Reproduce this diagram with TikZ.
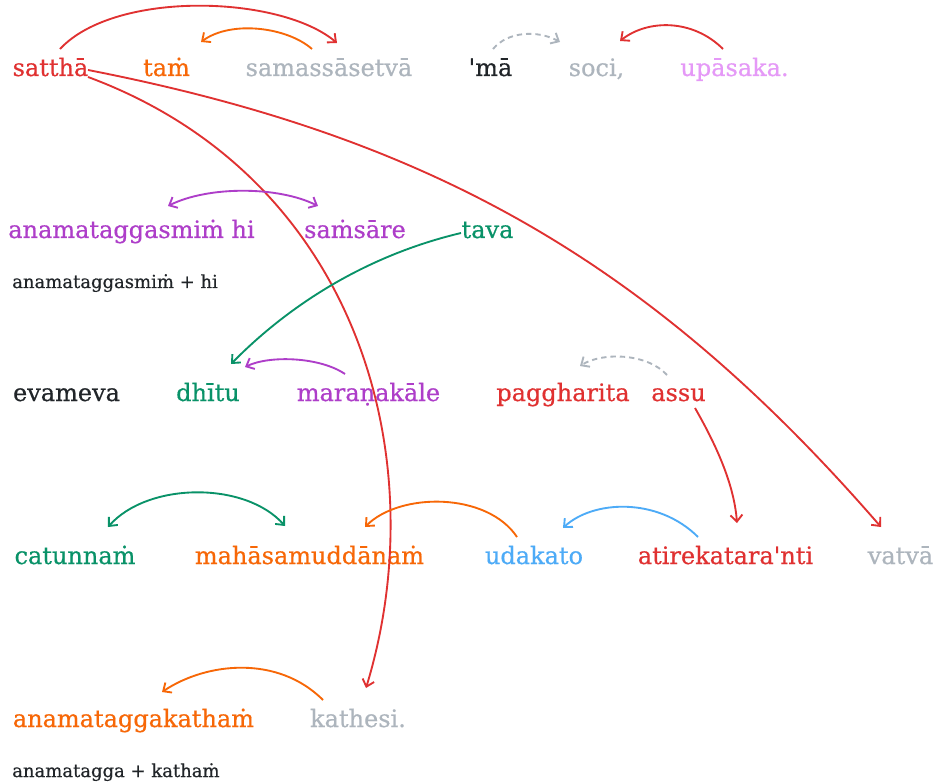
\documentclass[tikz,border=0pt]{standalone}
\usepackage{fontspec}
\setmainfont{DejaVu Serif}[Ligatures=TeXOff,FakeBold=0.5]
\usetikzlibrary{arrows.meta,calc}
\definecolor{cred}{HTML}{E03131}
\definecolor{corange}{HTML}{F76707}
\definecolor{cgrey}{HTML}{ADB5BD}
\definecolor{cdark}{HTML}{212529}
\definecolor{cpink}{HTML}{E599F7}
\definecolor{cgrape}{HTML}{AE3EC9}
\definecolor{cteal}{HTML}{099268}
\definecolor{cblue}{HTML}{4DABF7}
\begin{document}
\begin{tikzpicture}[x=0.75pt,y=-0.75pt,
  word/.style={inner sep=0pt, anchor=base, font=\fontsize{18}{21}\selectfont},
  gloss/.style={inner sep=0pt, anchor=base west, text=cdark, font=\fontsize{13.5}{16}\selectfont},
  link/.style={line width=1.4pt, -{Straight Barb[length=5pt,width=9pt]}},
  both/.style={line width=1.4pt, {Straight Barb[length=5pt,width=9pt]}-{Straight Barb[length=5pt,width=9pt]}},
  faint/.style={link, cgrey, dash pattern=on 4pt off 3pt}]
\fill[white] (0,0) rectangle (939,784);
\useasboundingbox (0,0) rectangle (939,784);

% line 1
\node[word,text=cred]    (sat)  at (50.5,76)  {satthā};
\node[word,text=corange] (tam)  at (166.5,76) {taṁ};
\node[word,text=cgrey]   (sam)  at (329,76)   {samassāsetvā};
\node[word,text=cdark]   (ma)   at (490.5,76) {'mā};
\node[word,text=cgrey]   (soci) at (596.5,76) {soci,};
\node[word,text=cpink]   (upa)  at (734.5,76) {upāsaka.};

% line 2
\node[word,text=cgrape]  (anh)  at (131.5,238) {anamataggasmiṁ hi};
\node[word,text=cgrape]  (sams) at (355,238)   {saṁsāre};
\node[word,text=cteal]   (tava) at (487.5,238) {tava};
\node[gloss] (note1) at (12,288) {anamataggasmiṁ + hi};

% line 3
\node[word,text=cdark]   (evam)  at (66.5,401)  {evameva};
\node[word,text=cteal]   (dhitu) at (208,401)   {dhītu};
\node[word,text=cgrape]  (mara)  at (368.5,401) {maraṇakāle};
\node[word,text=cred]    (pagg)  at (563,401)   {paggharita};
\node[word,text=cred]    (assu)  at (678.5,401) {assu};

% line 4
\node[word,text=cteal]   (catu)  at (75,564)    {catunnaṁ};
\node[word,text=corange] (maha)  at (309.5,564) {mahāsamuddānaṁ};
\node[word,text=cblue]   (udak)  at (534,564)   {udakato};
\node[word,text=cred]    (atir)  at (725.5,564) {atirekatara'nti};
\node[word,text=cgrey]   (vatva) at (900.5,564) {vatvā};

% line 5
\node[word,text=corange] (anak) at (133.5,727) {anamataggakathaṁ};
\node[word,text=cgrey]   (kath) at (358,727)   {kathesi.};
\node[gloss] (note2) at (12,777) {anamatagga + kathaṁ};

% links
\draw[link,cred] ($(sat.base)+(9.5,-27)$) .. controls +(55,-59) and +(-57,-48) .. ($(sam.base)+(8,-33)$);
\draw[link,corange] ($(sam.base)+(-17,-27)$) .. controls +(-25,-22) and +(30,-22) .. ($(tam.base)+(34.5,-34)$);
\draw[faint] ($(ma.base)+(2.5,-27)$) .. controls +(15,-18) and +(-22,-12) .. ($(soci.base)+(-36.5,-34)$);
\draw[link,cred] ($(upa.base)+(-11.5,-27)$) .. controls +(-30,-30) and +(28,-22) .. ($(soci.base)+(23.5,-35)$);

\draw[link,cred] ($(sat.base)+(37.5,-6)$) .. controls +(343,67) and +(-230,-265) .. ($(vatva.base)+(-19.5,-37)$);
\draw[link,cred] ($(sat.base)+(37.5,1)$) .. controls +(270,100) and +(70,-230) .. ($(kath.base)+(8,-39)$);

\draw[both,cgrape] ($(anh.base)+(36.5,-32)$) .. controls +(40,-20) and +(-40,-20) .. ($(sams.base)+(-37,-32)$);
\draw[link,cteal] ($(tava.base)+(-26.5,-5)$) .. controls +(-97,23) and +(56,-57) .. ($(dhitu.base)+(23,-37)$);
\draw[link,cgrape] ($(mara.base)+(-23.5,-27)$) .. controls +(-25,-17) and +(25,-12) .. ($(dhitu.base)+(37,-34)$);
\draw[faint] ($(assu.base)+(-11.5,-26)$) .. controls +(-20,-22) and +(22,-14) .. ($(pagg.base)+(17,-35)$);
\draw[link,cred] ($(assu.base)+(16.5,7)$) .. controls +(20,35) and +(-3,-40) .. ($(atir.base)+(11.5,-41)$);

\draw[both,cteal] ($(catu.base)+(33,-37)$) .. controls +(40,-45) and +(-40,-45) .. ($(maha.base)+(-24.5,-38)$);
\draw[link,corange] ($(udak.base)+(-17,-27)$) .. controls +(-30,-45) and +(35,-35) .. ($(maha.base)+(55.5,-37)$);
\draw[link,cblue] ($(atir.base)+(-27.5,-27)$) .. controls +(-40,-40) and +(30,-28) .. ($(udak.base)+(29,-36)$);

\draw[link,corange] ($(kath.base)+(-35,-27)$) .. controls +(-45,-45) and +(45,-30) .. ($(anak.base)+(28.5,-35)$);
\end{tikzpicture}
\end{document}
